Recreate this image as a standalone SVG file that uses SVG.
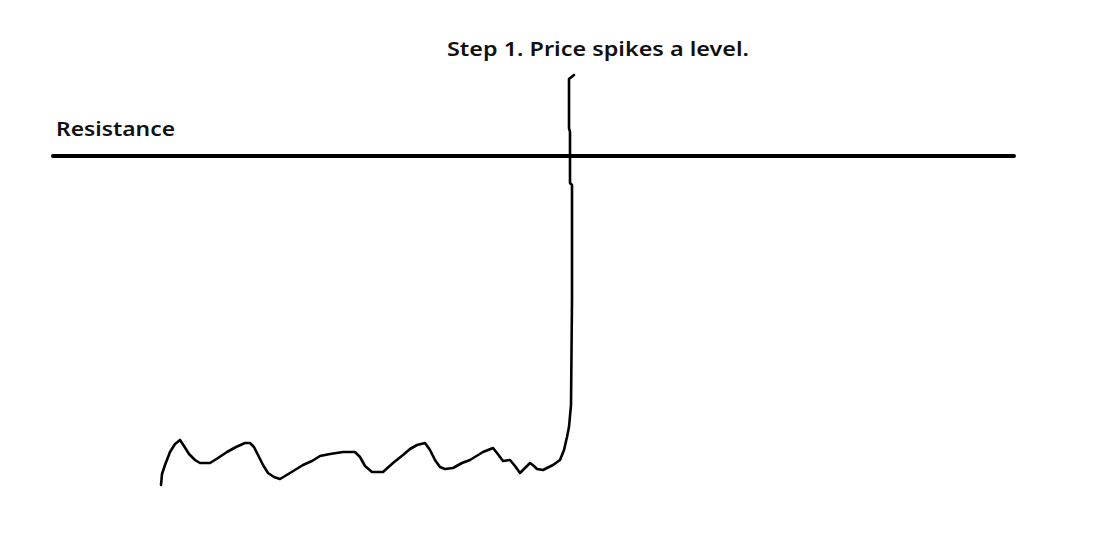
<svg xmlns="http://www.w3.org/2000/svg" width="1120" height="546" viewBox="0 0 1120 546">
<style>
.lbl{font-family:"Noto Sans","Open Sans","Liberation Sans",sans-serif;font-weight:600;font-size:20px;fill:#111}
.ink{fill:none;stroke:#000;stroke-linecap:round;stroke-linejoin:round}
</style>
<rect width="1120" height="546" fill="#fff"/>
<g id="title"><text class="lbl" x="447" y="56" textLength="302" lengthAdjust="spacingAndGlyphs">Step 1. Price spikes a level.</text></g>
<g id="resistance">
<text class="lbl" x="56" y="136" textLength="119" lengthAdjust="spacingAndGlyphs">Resistance</text>
<line class="ink" x1="53" y1="156" x2="1014" y2="156" stroke-width="4"/>
</g>
<g id="price">
<path class="ink" stroke-width="2.6" d="M161,485 L162,474 L165,465 L170,452 L175,444 L180,440 L184,446 L189,454 L195,460 L200,463 L210,463 L218,458 L227,452 L236,447 L245,443 L250,443 L254,447 L258,455 L263,465 L268,473 L274,477 L280,479 L290,473 L303,465 L312,461 L320,456 L330,454 L343,452 L355,452 L360,457 L365,466 L372,472 L383,472 L393,463 L403,455 L410,449 L417,445 L425,443 L430,450 L435,460 L440,467 L445,469 L453,468 L462,463 L470,460 L483,452 L493,448 L497,453 L503,461 L510,460 L515,466 L520,473 L525,468 L530,463 L534,466 L537,469 L543,470 L553,465 L560,460 L564,450 L567,437 L569,427 L571,405 L572,300 L572,185 L570,183 L570,132 L569,128 L569,79 L574,75"/>
</g>
</svg>
